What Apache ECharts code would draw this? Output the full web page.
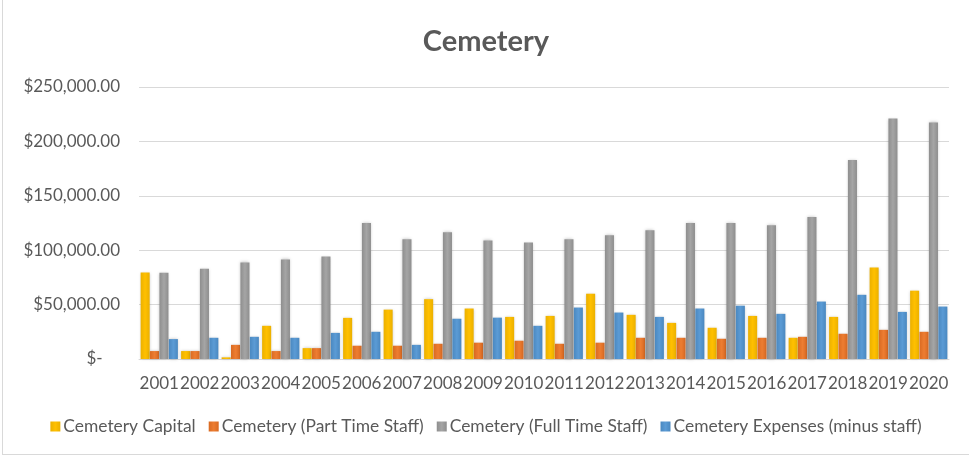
<!DOCTYPE html>
<html>
<head>
<meta charset="utf-8">
<script src="https://cdn.jsdelivr.net/npm/echarts@6/dist/echarts.min.js"></script>
<style>
  html, body { margin: 0; padding: 0; background: #fff; }
  #main { position: absolute; left: 2px; top: 0; width: 967px; height: 455px; border-left: 1px solid #d9d9d9; border-bottom: 1px solid #d9d9d9; box-sizing: border-box; }
</style>
</head>
<body>
<div id="main"></div>
<script>
const years = ['2001', '2002', '2003', '2004', '2005', '2006', '2007', '2008', '2009', '2010',
  '2011', '2012', '2013', '2014', '2015', '2016', '2017', '2018', '2019', '2020']
const capital = [79500, 7300, 1500, 30500, 10000, 37800, 45400, 55000, 46400, 38700,
  39600, 60000, 40600, 33200, 28700, 39600, 19500, 38700, 84000, 62800]
const partTime = [7300, 7300, 13000, 7300, 10000, 12200, 12200, 14000, 15000, 16800,
  14000, 15000, 19500, 19500, 18600, 19500, 20400, 23200, 26800, 25000]
const fullTime = [79300, 83000, 88700, 91500, 94200, 125000, 110000, 116500, 109000, 107000,
  110000, 113800, 118300, 125000, 125000, 123000, 130500, 183000, 221000, 217400]
const expenses = [18300, 19500, 20400, 19500, 24000, 25000, 13000, 37000, 38000, 30500,
  47300, 42700, 38700, 46400, 49000, 41500, 52800, 59000, 43300, 48200]

const names = ['Cemetery Capital', 'Cemetery (Part Time Staff)', 'Cemetery (Full Time Staff)', 'Cemetery Expenses (minus staff)']
const colors = ['#FFC000', '#ED7D31', '#A5A5A5', '#5B9BD5']
const edges = ['#EBB000', '#D96A22', '#8E8E8E', '#4A88C0']

const shade = (i) => new echarts.graphic.LinearGradient(0, 0, 1, 0, [
  { offset: 0, color: edges[i] },
  { offset: 0.5, color: colors[i] },
  { offset: 1, color: edges[i] }
])

const font = 'Lato, "Open Sans", sans-serif'
const chart = echarts.init(document.getElementById('main'))

const makeSeries = (data, i) => ({
  name: names[i],
  type: 'bar',
  data: data,
  barGap: '4%',
  barCategoryGap: '8%',
  itemStyle: { color: shade(i), shadowBlur: 3, shadowColor: 'rgba(0,0,0,0.25)' }
})

chart.setOption({
  animation: false,
  color: colors,
  title: {
    text: 'Cemetery',
    left: 'center',
    top: 22,
    textStyle: { fontFamily: font, fontSize: 29, fontWeight: 'bold', color: '#595959' }
  },
  legend: {
    bottom: 14,
    left: 'center',
    itemWidth: 10,
    itemHeight: 10,
    itemGap: 13,
    icon: 'rect',
    textStyle: { fontFamily: font, fontSize: 17.4, color: '#595959', padding: [0, 0, 0, -2] },
    data: names
  },
  grid: { left: 136, right: 20, top: 87, bottom: 95 },
  xAxis: {
    type: 'category',
    data: years,
    axisLine: { lineStyle: { color: '#D9D9D9', width: 1 } },
    axisTick: { show: false },
    axisLabel: { fontFamily: font, fontSize: 17, color: '#595959', margin: 16, interval: 0 }
  },
  yAxis: {
    type: 'value',
    min: 0,
    max: 250000,
    interval: 50000,
    axisLine: { show: false },
    axisTick: { show: false },
    splitLine: { lineStyle: { color: '#D9D9D9', width: 1 } },
    axisLabel: {
      fontFamily: font,
      fontSize: 17,
      color: '#595959',
      margin: 19,
      formatter: (v) => v === 0 ? '$-    ' : '$' + v.toLocaleString('en-US') + '.00'
    }
  },
  series: [
    makeSeries(capital, 0),
    makeSeries(partTime, 1),
    makeSeries(fullTime, 2),
    makeSeries(expenses, 3)
  ]
})

window.addEventListener('resize', () => {
  chart.resize()
})
</script>
</body>
</html>
